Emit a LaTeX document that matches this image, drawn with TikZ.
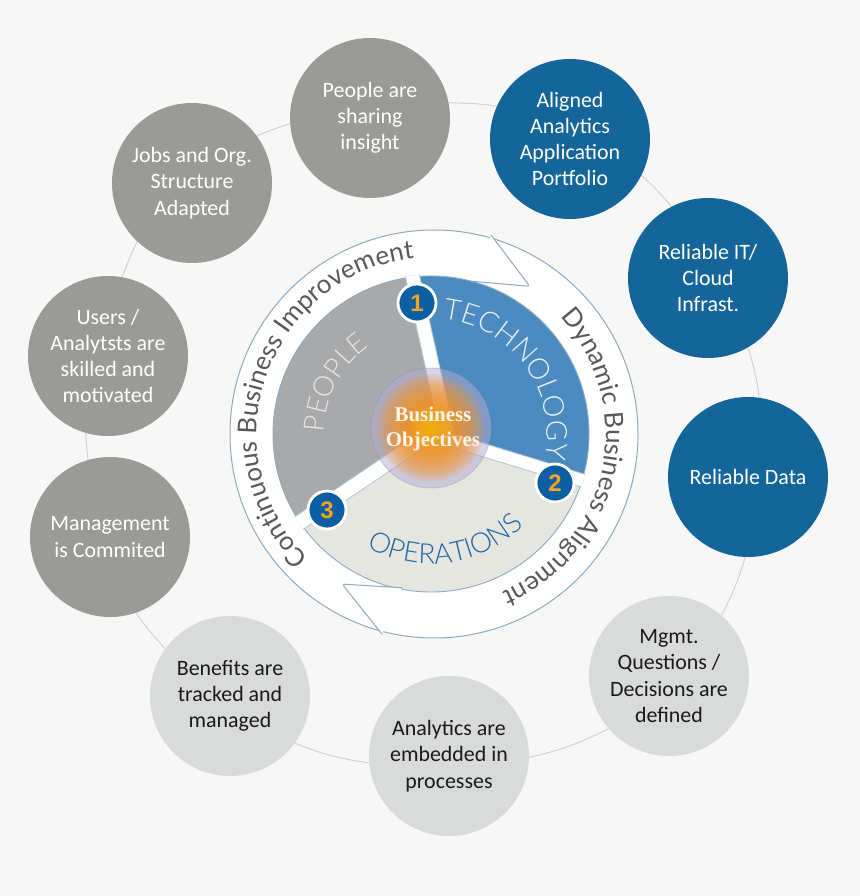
\documentclass[tikz,border=0pt]{standalone}
\usepackage{fontspec}
\usetikzlibrary{decorations.text}
\newfontfamily\carlito{Carlito}
\newfontfamily\arialf{Liberation Sans}
\newfontfamily\serifb{Liberation Serif}
\newfontfamily\latof{Lato}
\IfFontExistsTF{Lato Light}{\newfontfamily\latolight{Lato Light}}{\newfontfamily\latolight{Lato}}
\definecolor{bgc}{HTML}{F7F7F7}
\definecolor{bubdark}{HTML}{9A9A96}
\definecolor{bubblue}{HTML}{13659A}
\definecolor{bublight}{HTML}{D9DADA}
\definecolor{bubtext}{HTML}{1A1A1A}
\definecolor{linkgray}{HTML}{CFCFCF}
\definecolor{ringline}{HTML}{8DAAC0}
\definecolor{techc}{HTML}{4C8BC0}
\definecolor{peoplec}{HTML}{A8A9AB}
\definecolor{opsc}{HTML}{E6E6E1}
\definecolor{spokeedge}{HTML}{B5C7D6}
\definecolor{badgeblue}{HTML}{0C5FA2}
\definecolor{badgeor}{HTML}{F6A31F}
\definecolor{opstext}{HTML}{1E67A8}
\definecolor{ringtext}{HTML}{59595B}
\definecolor{glowor}{HTML}{F7931E}
\definecolor{glowlav}{HTML}{B3ABD6}
\definecolor{bizt}{HTML}{FFF6EC}
\definecolor{techtext}{HTML}{EAF1F8}
\definecolor{peopletext}{HTML}{E6E6E6}
\pgfdeclarelayer{back}
\pgfsetlayers{back,main}
\newcommand\bubblefont{\carlito\fontsize{22}{26.3}\selectfont}
\newcommand\badgefont{\arialf\bfseries\fontsize{24}{24}\selectfont}
\newcommand\bizfont{\serifb\bfseries\fontsize{21}{25}\selectfont}
% connector arc: from node #1 to node #2, chord angle #3, bend #4
\newcommand\linkarc[4]{\draw[link] (#1.{#3+#4}) to[out={#3+#4-14}, in={#3+180-#4+14}] (#2.{#3+180-#4});}
\begin{document}
\begin{tikzpicture}[x=1bp,y=1bp,
  bubble/.style={circle, minimum size=160bp, inner sep=0pt, align=center, font=\bubblefont},
  darkbub/.style={bubble, fill=bubdark, text=white},
  bluebub/.style={bubble, fill=bubblue, text=white},
  lightbub/.style={bubble, fill=bublight, text=bubtext},
  link/.style={draw=linkgray, line width=0.9bp},
  badge/.style={circle, fill=badgeblue, draw=white, line width=2.8bp, minimum size=38bp, inner sep=0pt, text=badgeor, font=\badgefont},
  bizlabel/.style={align=center, text=bizt, font=\bizfont},
  ringedge/.style={draw=ringline, line width=1bp},
  spokeb/.style={spokeedge, line width=15bp},
  spokew/.style={white, line width=13bp}
]
\useasboundingbox (0,0) rectangle (860,896);

% outer bubbles
\node[darkbub]  (pp) at (370,778) {People are\\sharing\\insight};
\node[bluebub]  (al) at (570,757) {Aligned\\Analytics\\Application\\Portfolio};
\node[darkbub]  (jb) at (192,713) {Jobs and Org.\\Structure\\Adapted};
\node[bluebub]  (it) at (708,618) {Reliable IT/\\Cloud\\Infrast.};
\node[darkbub]  (us) at (108,540) {Users /\\Analytsts are\\skilled and\\motivated};
\node[bluebub]  (rd) at (748,419) {Reliable Data};
\node[darkbub]  (mc) at (110,359) {Management\\is Commited};
\node[lightbub] (mq) at (669,220) {Mgmt.\\Questions /\\Decisions are\\defined};
\node[lightbub] (bn) at (230,200) {Benefits are\\tracked and\\managed};
\node[lightbub] (an) at (449,140) {Analytics are\\embedded in\\processes};

\begin{pgfonlayer}{back}
\fill[bgc] (0,0) rectangle (860,896);
\linkarc{pp}{al}{-6.0}{17.8}
\linkarc{al}{it}{-45.2}{17.5}
\linkarc{it}{rd}{-78.6}{18.5}
\linkarc{rd}{mq}{-111.7}{19}
\linkarc{mq}{an}{-160}{21}
\linkarc{an}{bn}{164.7}{20.7}
\linkarc{bn}{mc}{127}{17.5}
\linkarc{mc}{us}{90.6}{15.8}
\linkarc{us}{jb}{64.1}{16.3}
\linkarc{jb}{pp}{20.1}{16.1}
\end{pgfonlayer}

% ring
\coordinate (C) at (434,462);
\coordinate (P) at (431,462);
\fill[white] (C) circle (204);
\draw[ringedge] (C) circle (204);

% pie sectors
\coordinate (s1a) at (447,463);
\coordinate (s1b) at (403,663);
\coordinate (s2) at (718,374);
\coordinate (s3) at (182,294);
\begin{scope}
\clip (P) circle (158);
\fill[techc] (s1a) -- (s1b) -- (720,700) -- (s2) -- (P) -- cycle;
\fill[opsc] (P) -- (s2) -- (718,150) -- (150,150) -- (s3) -- cycle;
\fill[peoplec] (P) -- (s3) -- (150,700) -- (s1b) -- (s1a) -- cycle;
\end{scope}
\draw[ringline, line width=0.9bp] (P) circle (158);
\begin{scope}
\clip (P) circle (159.5);
\draw[spokeb] (s1a) -- (s1b);
\draw[spokeb, line width=14bp] (P) -- (s2);
\draw[spokeb, line width=16bp] (P) -- (s3);
\draw[spokew] (s1a) -- (s1b);
\draw[spokew, line width=12bp] (P) -- (s2);
\draw[spokew, line width=14bp] (P) -- (s3);
\end{scope}

% arrowheads
\coordinate (tOB) at ([shift={(C)}]74:207);
\coordinate (tIB) at ([shift={(C)}]77:157);
\coordinate (tT)  at ([shift={(C)}]57:176);
\coordinate (bOB) at ([shift={(C)}]255.5:207);
\coordinate (bIB) at ([shift={(C)}]258.5:157);
\coordinate (bT)  at ([shift={(C)}]238.5:176);
\fill[white, rounded corners=3bp] (tOB) -- (tT) -- (tIB) -- cycle;
\draw[ringedge, rounded corners=3bp] (tOB) -- (tT) -- (tIB);
\fill[white, rounded corners=3bp] (bOB) -- (bT) -- (bIB) -- cycle;
\draw[ringedge, rounded corners=3bp] (bOB) -- (bT) -- (bIB);

% ring texts
\path[decorate, decoration={text along path, text align=center, text color=ringtext,
  text={|\latof\fontsize{26}{26}\selectfont|Continuous Business Improvement}}]
  ([shift={(C)}]240.6:177) arc[start angle=240.6, end angle=80.6, radius=177];
\path[decorate, decoration={text along path, text align=center, text color=ringtext,
  text={|\latof\fontsize{26}{26}\selectfont|Dynamic Business Alignment}}]
  ([shift={(C)}]68:172) arc[start angle=68, end angle=-92, radius=172];

% sector labels
\path[decorate, decoration={text along path, text align=center, text color=techtext,
  text={|\latolight\fontsize{29}{29}\selectfont|TECHNOLOGY}}]
  ([shift={(P)}]86:116) arc[start angle=86, end angle=-14, radius=116];
\path[decorate, decoration={text along path, text align=center, text color=peopletext,
  text={|\latolight\fontsize{28}{28}\selectfont|PEOPLE}}]
  ([shift={(P)}]187:107) arc[start angle=187, end angle=117, radius=107];
\path[decorate, decoration={text along path, text align=center, text color=opstext,
  text={|\latolight\fontsize{28}{28}\selectfont|OPERATIONS}}]
  ([shift={(P)}]232:130) arc[start angle=232, end angle=324, radius=130];

% central glow
\coordinate (G) at (431,468);
\fill[glowlav, fill opacity=0.5] (G) circle (60);
\draw[glowlav!80!black, line width=0.8bp, opacity=0.35] (G) circle (60);
\foreach \r in {2,4,...,54} \fill[glowor, fill opacity=0.11] (G) circle (\r);
\foreach \r in {2,4,...,22} \fill[yellow!70!orange, fill opacity=0.06] (G) circle (\r);
\node[bizlabel] (bo) at (433,467) {Business\\Objectives};

% badges
\node[badge] (b1) at (417,593) {1};
\node[badge] (b2) at (555,413) {2};
\node[badge] (b3) at (327,386) {3};
\end{tikzpicture}
\end{document}
